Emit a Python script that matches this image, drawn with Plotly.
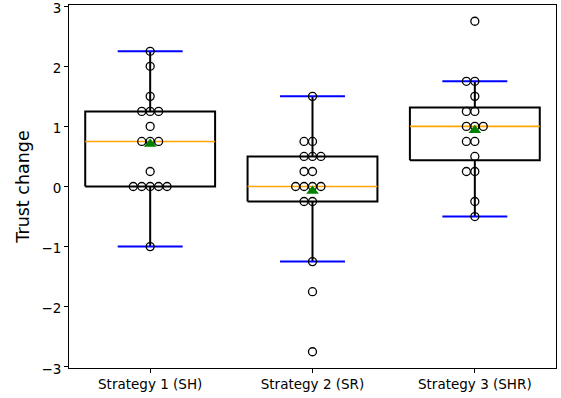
import numpy as np
import plotly.graph_objects as go
from collections import Counter

# Trust change per participant for each strategy
categories = ["Strategy 1 (SH)", "Strategy 2 (SR)", "Strategy 3 (SHR)"]
sh_values = [2.25, 2.0, 1.5, 1.25, 1.25, 1.25, 1.0, 0.75, 0.75, 0.75,
             0.25, 0.0, 0.0, 0.0, 0.0, 0.0, -1.0]
sr_values = [1.5, 0.75, 0.75, 0.5, 0.5, 0.5, 0.25, 0.25, 0.0, 0.0, 0.0, 0.0,
             -0.25, -0.25, -1.25, -1.75, -2.75]
shr_values = [2.75, 1.75, 1.75, 1.5, 1.25, 1.25, 1.0, 1.0, 1.0, 0.75, 0.75,
              0.5, 0.25, 0.25, -0.25, -0.5]
series = [sh_values, sr_values, shr_values]

y_ticks = [-3, -2, -1, 0, 1, 2, 3]

BOX_W = 0.8
CAP_W = 0.4
SWARM_STEP = 0.052

fig = go.Figure()


def seg(xs, ys, color, width):
    fig.add_trace(go.Scatter(x=xs, y=ys, mode="lines",
                             line=dict(color=color, width=width),
                             hoverinfo="skip", showlegend=False))


for i, vals in enumerate(series):
    pos = i + 1
    arr = np.asarray(vals, dtype=float)
    q1, med, q3 = np.percentile(arr, [25, 50, 75])
    iqr = q3 - q1
    lo = arr[arr >= q1 - 1.5 * iqr].min()
    hi = arr[arr <= q3 + 1.5 * iqr].max()
    mean = arr.mean()

    # box outline
    x0, x1 = pos - BOX_W / 2, pos + BOX_W / 2
    seg([x0, x1, x1, x0, x0], [q1, q1, q3, q3, q1], "black", 2)
    # whiskers
    seg([pos, pos], [q1, lo], "black", 2)
    seg([pos, pos], [q3, hi], "black", 2)
    # caps
    seg([pos - CAP_W / 2, pos + CAP_W / 2], [lo, lo], "blue", 2)
    seg([pos - CAP_W / 2, pos + CAP_W / 2], [hi, hi], "blue", 2)
    # median
    seg([x0, x1], [med, med], "orange", 1.6)

    # swarm of individual observations
    px, py = [], []
    for v, n in Counter(vals).items():
        for k in range(-(n // 2), n - n // 2):
            px.append(pos + k * SWARM_STEP)
            py.append(v)
    fig.add_trace(go.Scatter(x=px, y=py, mode="markers",
                             marker=dict(symbol="circle-open", size=8,
                                         color="black", line=dict(width=1.3)),
                             hoverinfo="skip", showlegend=False))

    # mean
    fig.add_trace(go.Scatter(x=[pos], y=[mean], mode="markers",
                             marker=dict(symbol="triangle-up", size=11,
                                         color="green"),
                             hoverinfo="skip", showlegend=False))

font = "DejaVu Sans, Arial, sans-serif"
fig.update_layout(
    width=561, height=398,
    margin=dict(l=69, r=5, t=5, b=30),
    plot_bgcolor="white", paper_bgcolor="white",
    font=dict(family=font, size=13.5, color="black"),
)
fig.update_xaxes(
    range=[0.5, 3.5], tickvals=[1, 2, 3], ticktext=categories,
    showgrid=False, zeroline=False, showline=True, mirror=True,
    linecolor="black", linewidth=1, ticks="outside", ticklen=4,
    tickcolor="black", tickfont=dict(size=13.5), ticklabeloverflow="allow",
    automargin=False,
)
fig.update_yaxes(
    range=[-3.02, 3.02], tickvals=y_ticks,
    showgrid=False, zeroline=False, showline=True, mirror=True,
    linecolor="black", linewidth=1, ticks="outside", ticklen=4,
    tickcolor="black", tickfont=dict(size=13.5), ticklabeloverflow="allow",
    ticklabelshift=2, automargin=False,
    title=dict(text="Trust change", font=dict(size=17.5), standoff=7),
)

fig.write_html("out.html")
